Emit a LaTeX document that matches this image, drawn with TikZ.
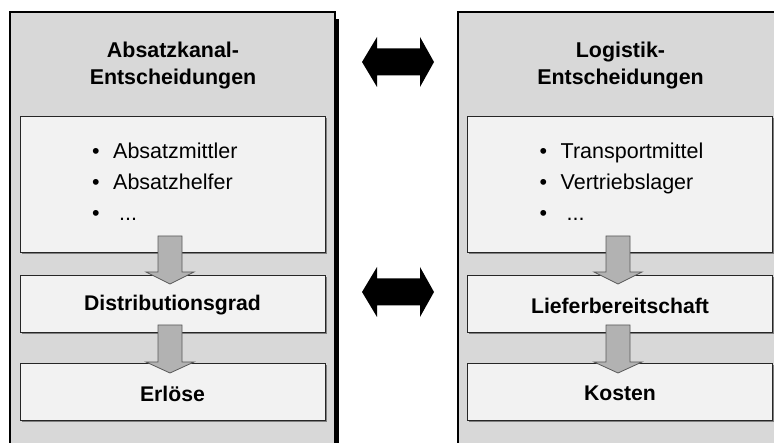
\documentclass[tikz,border=0pt]{standalone}
\usepackage{fontspec}
\setmainfont{Liberation Sans}
\usetikzlibrary{shadows}
\definecolor{panelgray}{HTML}{D8D8D8}
\definecolor{boxfill}{HTML}{F2F2F2}
\definecolor{flowgray}{HTML}{B2B2B2}
\definecolor{shadegray}{HTML}{7F7F7F}
\begin{document}
\begin{tikzpicture}[x=1pt,y=-1pt,
  panel/.style={draw=black, line width=1.3pt, fill=panelgray,
    minimum width=325pt, minimum height=448pt, inner sep=0pt,
    drop shadow={shadow xshift=4pt, shadow yshift=-7pt, fill=black, opacity=1}},
  infobox/.style={draw=black!85, line width=0.8pt, fill=boxfill,
    minimum width=305pt, inner sep=0pt,
    drop shadow={shadow xshift=1.6pt, shadow yshift=-1.6pt, fill=shadegray, opacity=1}},
  title/.style={font=\fontsize{21.4}{27}\selectfont\bfseries, align=center},
  label/.style={font=\fontsize{21.2}{25}\selectfont\bfseries, yshift=-2pt},
  items/.style={font=\fontsize{21.5}{31}\selectfont, align=left, anchor=west, inner sep=0pt},
  flow/.style={draw=black!65, line width=0.8pt, fill=flowgray, line join=miter},
  link/.style={fill=black}]
\useasboundingbox (0,0) rectangle (774,443);
\clip (0,0) rectangle (774,443);

% two decision panels
\node[panel] (absPanel) at (172.5,236) {};
\node[panel] (logPanel) at (620.5,236) {};

% panel headings
\node[title] (absTitle) at (173,65.5) {Absatzkanal-\\Entscheidungen};
\node[title] (logTitle) at (620.5,65.5) {Logistik-\\Entscheidungen};

% content boxes, left column
\node[infobox, minimum height=136pt] (absList) at (172.5,184) {};
\node[infobox, minimum height=57pt] (absGrad) at (172.5,303.5) {};
\node[infobox, minimum height=57pt] (absErl) at (172.5,391.5) {};

% content boxes, right column
\node[infobox, minimum height=136pt] (logList) at (620,184) {};
\node[infobox, minimum height=57pt] (logLief) at (620,303.5) {};
\node[infobox, minimum height=57pt] (logKost) at (620,391.5) {};

% bullet lists
\node[items] (absItems) at (92,182)
  {\makebox[21pt][l]{•}Absatzmittler\\\makebox[21pt][l]{•}Absatzhelfer\\\makebox[21pt][l]{•} ...};
\node[items] (logItems) at (539.5,182)
  {\makebox[21pt][l]{•}Transportmittel\\\makebox[21pt][l]{•}Vertriebslager\\\makebox[21pt][l]{•} ...};

% block arrows from box to box
\foreach \src/\dst/\cx/\top/\base/\tip in {absList/absGrad/170/236/272/284, absGrad/absErl/170/325/362/373,
    logList/logLief/618/236/272/284, logLief/logKost/618/325/362/373}{
  \draw[flow] (\cx-12,\top) -- (\cx+12,\top) -- (\cx+12,\base) -- (\cx+24,\base)
    -- (\cx,\tip) -- (\cx-24,\base) -- (\cx-12,\base) -- cycle;
}

% box labels
\node[label] (gradText) at (absGrad) {Distributionsgrad};
\node[label] (erlText) at (absErl) {Erlöse};
\node[label] (liefText) at (logLief) {Lieferbereitschaft};
\node[label] (kostText) at (logKost) {Kosten};

% double arrows between the panels
\foreach \cy in {62,292}{
  \fill[link] (362,\cy) -- (377,\cy-25) -- (377,\cy-13.5) -- (420,\cy-13.5) -- (420,\cy-25)
    -- (434,\cy) -- (420,\cy+25) -- (420,\cy+13.5) -- (377,\cy+13.5) -- (377,\cy+25) -- cycle;
}
\end{tikzpicture}
\end{document}
